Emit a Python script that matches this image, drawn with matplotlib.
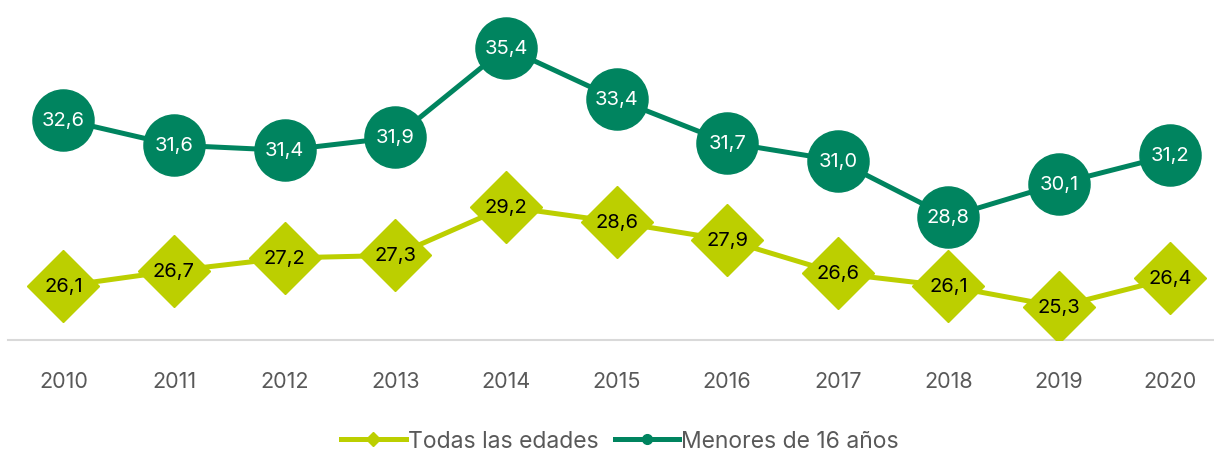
import numpy as np
import matplotlib
matplotlib.use("Agg")
import matplotlib.pyplot as plt

years = ["2010", "2011", "2012", "2013", "2014", "2015", "2016", "2017", "2018", "2019", "2020"]
todas = [26.1, 26.7, 27.2, 27.3, 29.2, 28.6, 27.9, 26.6, 26.1, 25.3, 26.4]
menores = [32.6, 31.6, 31.4, 31.9, 35.4, 33.4, 31.7, 31.0, 28.8, 30.1, 31.2]

green = "#00845F"
lime = "#BCCF00"

plt.rcParams["font.family"] = ["Inter", "DejaVu Sans"]

fig = plt.figure(figsize=(12.14, 4.52), dpi=100)
ax = fig.add_axes([8 / 1214, 111 / 452, 1206 / 1214, 341 / 452])

x = np.arange(len(years))
ax.plot(x, todas, color=lime, lw=3.6, marker="D", ms=37, mec=lime, mfc=lime,
        label="Todas las edades", zorder=3)
ax.plot(x, menores, color=green, lw=3.6, marker="o", ms=44, mec=green, mfc=green,
        label="Menores de 16 años", zorder=3)

for xi, v in zip(x, todas):
    ax.text(xi, v, f"{v:.1f}".replace(".", ","), ha="center", va="center",
            fontsize=14.5, color="black", zorder=4)
for xi, v in zip(x, menores):
    ax.text(xi, v, f"{v:.1f}".replace(".", ","), ha="center", va="center",
            fontsize=14.5, color="white", zorder=4)

ax.set_xlim(-0.5, 10.4)
ax.set_ylim(24, 37.3)
ax.set_xticks(x)
ax.set_xticklabels(years, fontsize=15.5, color="#595959")
ax.tick_params(axis="x", length=0, pad=22)
ax.set_yticks([])
for s in ["top", "right", "left"]:
    ax.spines[s].set_visible(False)
ax.spines["bottom"].set_color("#D9D9D9")
ax.spines["bottom"].set_linewidth(1.5)
ax.spines["bottom"].set_zorder(1)

handles = [
    plt.Line2D([], [], color=lime, lw=3.6, marker="D", ms=7),
    plt.Line2D([], [], color=green, lw=3.6, marker="o", ms=7),
]
fig.legend(handles, ["Todas las edades", "Menores de 16 años"], loc="center",
           bbox_to_anchor=(620 / 1214, 1 - 442 / 452), ncol=2, frameon=False,
           fontsize=16.5, handlelength=2.8, handletextpad=0.1, columnspacing=0.7,
           labelcolor="#595959")

fig.savefig("out.png", dpi=100)
